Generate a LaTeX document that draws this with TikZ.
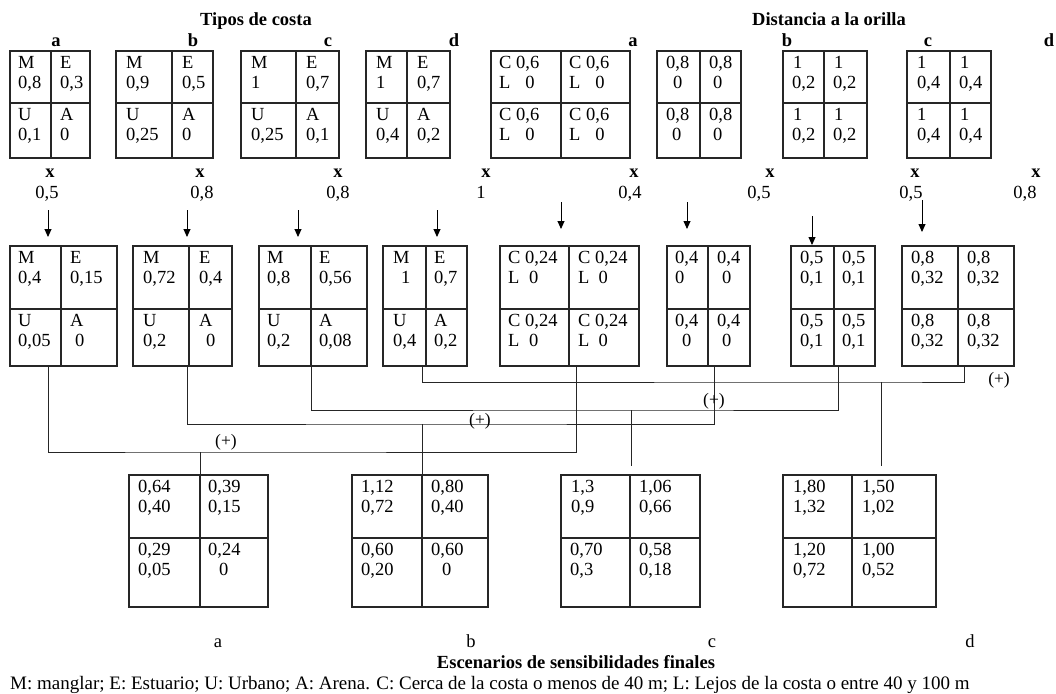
\documentclass[tikz,border=0pt]{standalone}
\usepackage{fontspec}
\setmainfont{Liberation Serif}
\usetikzlibrary{arrows.meta,fit}
\tikzset{
  boxframe/.style={draw=black!85, line width=1.1pt, inner sep=0pt, outer sep=0pt},
  gridline/.style={draw=black!85, line width=1.1pt},
  ctxt/.style={anchor=base west, inner sep=0pt, font=\fontsize{18.5}{20}\selectfont},
  lbl/.style={anchor=base, inner sep=0pt, font=\fontsize{18.5}{20}\selectfont},
  blbl/.style={anchor=base, inner sep=0pt, font=\bfseries\fontsize{18.5}{20}\selectfont},
  plus/.style={anchor=center, inner sep=0pt, font=\fontsize{17.5}{20}\selectfont},
  arr/.style={line width=0.9pt, -{Triangle[length=8pt,width=7pt]}},
  conn/.style={line width=0.9pt, draw=black!85},
}
\newcommand{\quadbox}[7]{%
  \coordinate (#1-nw) at (#2,#5);
  \coordinate (#1-se) at (#4,#7);
  \node[boxframe, fit=(#1-nw)(#1-se)] (#1) {};
  \draw[gridline] (#3,#5) -- (#3,#7) (#2,#6) -- (#4,#6);
}
\newcommand{\celltxt}[5]{%
  \node[ctxt] at (#1,#3+17) {#4};
  \node[ctxt] at (#2,#3+37) {#5};
}
\newcommand{\LZero}[1]{L\hspace{#1}0}
\begin{document}
\begin{tikzpicture}[x=1pt,y=-1pt]
\useasboundingbox (0,0) rectangle (1056,693);
\fill[white] (0,0) rectangle (1056,693);

% ---------- titles ----------
\node[blbl] (t1) at (256,26) {Tipos de costa};
\node[blbl] (t2) at (829,26) {Distancia a la orilla};

% ---------- top labels ----------
\node[blbl] (la1) at (56,47) {a};
\node[blbl] (lb1) at (193,47) {b};
\node[blbl] (lc1) at (328,47) {c};
\node[blbl] (ld1) at (454,47) {d};
\node[blbl] (la2) at (633,47) {a};
\node[blbl] (lb2) at (787,47) {b};
\node[blbl] (lc2) at (928,47) {c};
\node[blbl] (ld2) at (1049,47) {d};

% ---------- top row boxes ----------
\quadbox{ta}{10}{51}{90}{51}{103}{158}
\quadbox{tb}{116}{172}{213}{51}{103}{158}
\quadbox{tc}{241}{296}{339}{51}{103}{158}
\quadbox{td}{366}{407}{450}{51}{103}{158}
\quadbox{da}{491}{561}{630}{51}{103}{158}
\quadbox{db}{657}{700}{741}{51}{103}{158}
\quadbox{dc}{783}{824}{867}{51}{103}{158}
\quadbox{dd}{907}{950}{991}{51}{103}{158}

\celltxt{18}{18}{51}{M}{0,8}   \celltxt{60}{60}{51}{E}{0,3}
\celltxt{18}{18}{103}{U}{0,1}  \celltxt{60}{60}{103}{A}{0}
\celltxt{126}{126}{51}{M}{0,9}  \celltxt{182}{182}{51}{E}{0,5}
\celltxt{126}{126}{103}{U}{0,25} \celltxt{182}{182}{103}{A}{0}
\celltxt{251}{251}{51}{M}{1}  \celltxt{306}{306}{51}{E}{0,7}
\celltxt{251}{251}{103}{U}{0,25} \celltxt{306}{306}{103}{A}{0,1}
\celltxt{376}{376}{51}{M}{1}  \celltxt{417}{417}{51}{E}{0,7}
\celltxt{376}{376}{103}{U}{0,4} \celltxt{417}{417}{103}{A}{0,2}

\celltxt{499}{499}{51}{C 0,6}{\LZero{15pt}} \celltxt{569}{569}{51}{C 0,6}{\LZero{15pt}}
\celltxt{499}{499}{103}{C 0,6}{\LZero{15pt}} \celltxt{569}{569}{103}{C 0,6}{\LZero{15pt}}
\celltxt{666}{673}{51}{0,8}{0}  \celltxt{709}{713}{51}{0,8}{0}
\celltxt{666}{672}{103}{0,8}{0} \celltxt{709}{713}{103}{0,8}{0}
\celltxt{793}{792}{51}{1}{0,2}  \celltxt{834}{833}{51}{1}{0,2}
\celltxt{793}{792}{103}{1}{0,2} \celltxt{834}{833}{103}{1}{0,2}
\celltxt{917}{917}{51}{1}{0,4}  \celltxt{960}{959}{51}{1}{0,4}
\celltxt{917}{917}{103}{1}{0,4} \celltxt{960}{959}{103}{1}{0,4}

% ---------- multipliers ----------
\node[blbl] (x1) at (50,177) {x};
\node[blbl] (x2) at (200,177) {x};
\node[blbl] (x3) at (338,177) {x};
\node[blbl] (x4) at (486,177) {x};
\node[blbl] (x5) at (634,177) {x};
\node[blbl] (x6) at (770,177) {x};
\node[blbl] (x7) at (915,177) {x};
\node[blbl] (x8) at (1036,177) {x};
\node[lbl] (v1) at (47,198) {0,5};
\node[lbl] (v2) at (202,198) {0,8};
\node[lbl] (v3) at (338,198) {0,8};
\node[lbl] (v4) at (481,198) {1};
\node[lbl] (v5) at (630,198) {0,4};
\node[lbl] (v6) at (759,198) {0,5};
\node[lbl] (v7) at (911,198) {0,5};
\node[lbl] (v8) at (1025,198) {0,8};

% ---------- arrows ----------
\foreach \n/\x/\ya/\yb in {1/48/210/237, 2/187/210/237, 3/298/210/237, 4/437/210/237,
                           5/561/202/229, 6/687/202/229, 7/812/216/245, 8/922/200/232}{
  \coordinate (as\n) at (\x,\ya);
  \coordinate (ae\n) at (\x,\yb);
  \draw[arr] (as\n) -- (ae\n);
}

% ---------- middle row boxes ----------
\quadbox{ma}{10}{61}{117}{246}{309}{366}
\quadbox{mb}{133}{189}{232}{246}{309}{366}
\quadbox{mc}{259}{311}{367}{246}{309}{366}
\quadbox{md}{383}{426}{467}{246}{309}{366}
\quadbox{na}{500}{569}{639}{246}{309}{366}
\quadbox{nb}{667}{708}{750}{246}{309}{366}
\quadbox{nc}{791}{834}{875}{246}{309}{366}
\quadbox{nd}{902}{958}{1014}{246}{309}{366}

\celltxt{18}{18}{246}{M}{0,4}   \celltxt{70}{70}{246}{E}{0,15}
\celltxt{18}{18}{309}{U}{0,05}  \celltxt{70}{75}{309}{A}{0}
\celltxt{143}{143}{246}{M}{0,72} \celltxt{199}{199}{246}{E}{0,4}
\celltxt{143}{143}{309}{U}{0,2}  \celltxt{199}{206}{309}{A}{0}
\celltxt{267}{267}{246}{M}{0,8}  \celltxt{319}{319}{246}{E}{0,56}
\celltxt{267}{267}{309}{U}{0,2}  \celltxt{319}{319}{309}{A}{0,08}
\celltxt{393}{401}{246}{M}{1}    \celltxt{434}{434}{246}{E}{0,7}
\celltxt{393}{393}{309}{U}{0,4}  \celltxt{434}{434}{309}{A}{0,2}

\celltxt{508}{508}{246}{C 0,24}{\LZero{9.5pt}} \celltxt{578}{578}{246}{C 0,24}{\LZero{9pt}}
\celltxt{508}{508}{309}{C 0,24}{\LZero{9.5pt}} \celltxt{578}{578}{309}{C 0,24}{\LZero{9pt}}
\celltxt{675}{675}{246}{0,4}{0}  \celltxt{717}{722}{246}{0,4}{0}
\celltxt{675}{682}{309}{0,4}{0}  \celltxt{717}{722}{309}{0,4}{0}
\celltxt{800}{800}{246}{0,5}{0,1} \celltxt{842}{842}{246}{0,5}{0,1}
\celltxt{800}{800}{309}{0,5}{0,1} \celltxt{842}{842}{309}{0,5}{0,1}
\celltxt{911}{911}{246}{0,8}{0,32} \celltxt{967}{967}{246}{0,8}{0,32}
\celltxt{911}{911}{309}{0,8}{0,32} \celltxt{967}{967}{309}{0,8}{0,32}

% ---------- bottom row boxes ----------
\quadbox{fa}{129}{200}{268}{475}{538}{607}
\quadbox{fb}{352}{422}{488}{475}{538}{607}
\quadbox{fc}{561}{630}{700}{475}{538}{607}
\quadbox{fd}{783}{852}{936}{475}{538}{607}

\celltxt{138}{138}{475}{0,64}{0,40} \celltxt{208}{208}{475}{0,39}{0,15}
\celltxt{138}{138}{538}{0,29}{0,05} \celltxt{208}{219}{538}{0,24}{0}
\celltxt{361}{361}{475}{1,12}{0,72} \celltxt{431}{431}{475}{0,80}{0,40}
\celltxt{361}{361}{538}{0,60}{0,20} \celltxt{431}{442}{538}{0,60}{0}
\celltxt{571}{571}{475}{1,3}{0,9}   \celltxt{639}{639}{475}{1,06}{0,66}
\celltxt{570}{570}{538}{0,70}{0,3}  \celltxt{639}{639}{538}{0,58}{0,18}
\celltxt{793}{793}{475}{1,80}{1,32} \celltxt{862}{862}{475}{1,50}{1,02}
\celltxt{793}{793}{538}{1,20}{0,72} \celltxt{862}{862}{538}{1,00}{0,52}

% ---------- connectors ----------
\coordinate (pa1) at (48,366);  \coordinate (pa2) at (576,366); \coordinate (ja) at (200,452);
\coordinate (pb1) at (187,366); \coordinate (pb2) at (714,366); \coordinate (jb) at (422,424);
\coordinate (pc1) at (311,366); \coordinate (pc2) at (838,366); \coordinate (jc) at (631,410);
\coordinate (pd1) at (422,366); \coordinate (pd2) at (964,366); \coordinate (jd) at (881,382);
\coordinate (ec) at (631,466); \coordinate (ed) at (881,466);

\draw[conn] (pa1) |- (ja) -| (pa2);
\draw[conn] (ja) -- (ja |- fa.north);
\draw[conn] (pb1) |- (jb) -| (pb2);
\draw[conn] (jb) -- (jb |- fb.north);
\draw[conn] (pc1) |- (jc) -| (pc2);
\draw[conn] (jc) -- (ec);
\draw[conn] (pd1) |- (jd) -| (pd2);
\draw[conn] (jd) -- (ed);

\node[plus] (pl1) at (226,442) {(+)};
\node[plus] (pl2) at (480,421) {(+)};
\node[plus] (pl3) at (714,401) {(+)};
\node[plus] (pl4) at (999,380) {(+)};

% ---------- bottom labels ----------
\node[lbl] (ba) at (218,647) {a};
\node[lbl] (bb) at (471,647) {b};
\node[lbl] (bc) at (712,647) {c};
\node[lbl] (bd) at (970,647) {d};
\node[blbl] (esc) at (576,668) {Escenarios de sensibilidades finales};
\node[anchor=base west, inner sep=0pt, font=\fontsize{19}{21}\selectfont] (foot) at (10,689)
  {M: manglar; E: Estuario; U: Urbano; A: Arena. C: Cerca de la costa o menos de 40 m; L: Lejos de la costa o entre 40 y 100 m};
\end{tikzpicture}
\end{document}
